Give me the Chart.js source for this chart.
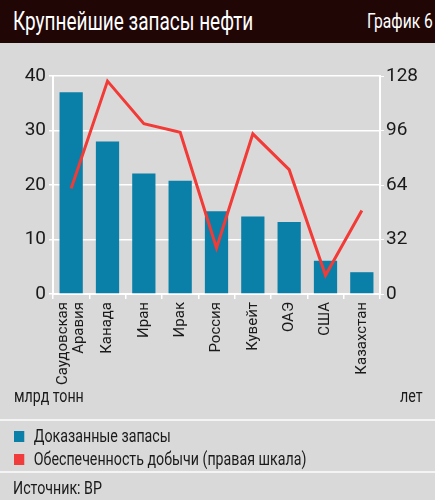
<!DOCTYPE html>
<html>
<head>
<meta charset="utf-8">
<script src="https://cdn.jsdelivr.net/npm/chart.js@4"></script>
<style>
  html, body { margin: 0; padding: 0; }
  body {
    width: 435px; height: 500px; position: relative; overflow: hidden;
    background: #d9d9d9;
    font-family: Roboto, "DejaVu Sans Condensed", sans-serif;
    color: #1a1a1a;
  }
  .nar { transform: scaleX(0.79); transform-origin: left top; white-space: nowrap; }
  #head {
    position: absolute; left: 0; top: 0; width: 435px; height: 43px;
    background: #210606; color: #fff;
  }
  #title { position: absolute; left: 13px; top: 6px; font-size: 26px; transform: scaleX(0.73); }
  #num { position: absolute; left: 367px; top: 9px; font-size: 20px; transform: scaleX(0.78); }
  #chartBox { position: absolute; left: 0; top: 43px; width: 435px; height: 372px; }
  .unit { position: absolute; top: 385px; font-size: 18px; }
  .sep { position: absolute; left: 0; width: 435px; height: 2px; background: #f4f4f4; }
  .leg { position: absolute; left: 14px; font-size: 18px; }
  .leg span { display: inline-block; width: 13px; height: 11px; margin-right: 12px; vertical-align: 0px; }
  #src { position: absolute; left: 13px; top: 477px; font-size: 18px; }
</style>
</head>
<body>
<div id="head"><div id="title" class="nar">Крупнейшие запасы нефти</div><div id="num" class="nar">График 6</div></div>
<div id="chartBox"><canvas id="c"></canvas></div>
<div class="unit nar" style="left:14px">млрд тонн</div>
<div class="unit nar" style="left:400px">лет</div>
<div class="sep" style="top:419px"></div>
<div class="leg nar" style="top:425px"><span style="background:#0a7fa8"></span>Доказанные запасы</div>
<div class="leg nar" style="top:448px"><span style="background:#f03c3c"></span>Обеспеченность добычи (правая шкала)</div>
<div class="sep" style="top:471px"></div>
<div id="src" class="nar">Источник: BP</div>
<script>
const countries = [["Саудовская", "Аравия"], "Канада", "Иран", "Ирак", "Россия", "Кувейт", "ОАЭ", "США", "Казахстан"];
const reserves = [37.0, 28.0, 22.1, 20.8, 15.2, 14.2, 13.2, 6.1, 4.0];
const yearsLeft = [62, 125, 100, 95, 27, 94, 73, 11, 49];
const leftTicks = [0, 10, 20, 30, 40];
const rightTicks = [0, 32, 64, 96, 128];

const tickFont = { family: "Roboto, 'DejaVu Sans Condensed', sans-serif", size: 19 };
const catFont = { family: "Roboto, 'DejaVu Sans Condensed', sans-serif", size: 15, lineHeight: 1.1 };

// centre multi-line rotated category labels on their tick
const centerLabels = {
  id: "centerLabels",
  beforeDraw(chart) {
    const x = chart.scales.x;
    x.getLabelItems().forEach((item) => {
      const tr = item.options && item.options.translation;
      if (tr && Array.isArray(item.label) && !item._moved) {
        tr[0] -= (item.label.length - 1) * catFont.size * catFont.lineHeight / 2;
        item._moved = true;
      }
    });
  },
};

new Chart(document.getElementById("c"), {
  data: {
    labels: countries,
    datasets: [
      {
        type: "line",
        label: "Обеспеченность добычи (правая шкала)",
        data: yearsLeft,
        yAxisID: "y2",
        borderColor: "#f23a36",
        borderWidth: 3,
        pointRadius: 0,
        tension: 0,
        fill: false,
      },
      {
        type: "bar",
        label: "Доказанные запасы",
        data: reserves,
        yAxisID: "y",
        backgroundColor: "#0a7fa8",
        categoryPercentage: 0.64,
        barPercentage: 1,
      },
    ],
  },
  options: {
    responsive: true,
    maintainAspectRatio: false,
    animation: false,
    layout: { padding: { top: 33, bottom: 0, left: 0, right: 0 } },
    plugins: { legend: { display: false }, tooltip: { enabled: false } },
    scales: {
      x: {
        offset: true,
        grid: { display: true, drawOnChartArea: false, offset: true, color: "#ffffff", tickLength: 5, lineWidth: 1.5 },
        border: { color: "#ffffff", width: 2 },
        ticks: { color: "#1a1a1a", font: catFont, minRotation: 90, maxRotation: 90, padding: 3, autoSkip: false },
        afterFit: (s) => { s.height = 121; },
      },
      y: {
        position: "left",
        min: 0, max: 40,
        afterBuildTicks: (s) => { s.ticks = leftTicks.map((v) => ({ value: v })); },
        grid: { color: "#ffffff", lineWidth: 1.5, tickLength: 4 },
        border: { color: "#ffffff", width: 2 },
        ticks: { color: "#1a1a1a", font: tickFont, padding: 3 },
        afterFit: (s) => { s.width = 53; },
      },
      y2: {
        position: "right",
        min: 0, max: 128,
        afterBuildTicks: (s) => { s.ticks = rightTicks.map((v) => ({ value: v })); },
        grid: { drawOnChartArea: false, color: "#ffffff", tickLength: 4 },
        border: { color: "#ffffff", width: 2 },
        ticks: { color: "#1a1a1a", font: tickFont, padding: 2 },
        afterFit: (s) => { s.width = 55; },
      },
    },
  },
  plugins: [centerLabels],
});
</script>
</body>
</html>
